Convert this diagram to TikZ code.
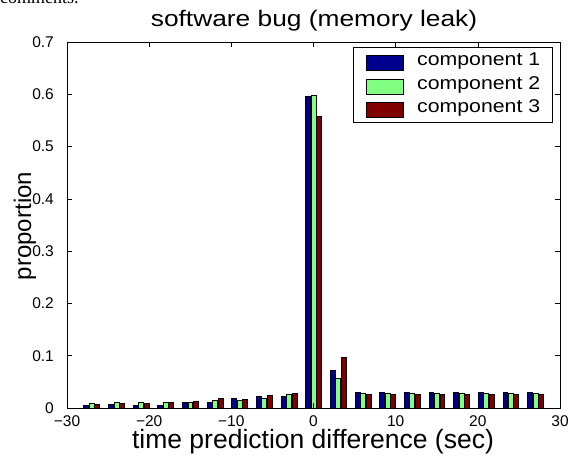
\documentclass[tikz,border=0pt]{standalone}
\usepackage{fontspec}
\usepackage{graphicx}
\setmainfont{Liberation Sans}
\newfontfamily\pageserif{Liberation Serif}
\definecolor{jetblue}{RGB}{0,0,143}
\definecolor{jetgreen}{RGB}{128,255,128}
\definecolor{jetred}{RGB}{128,0,0}
\tikzset{
  barrect/.style={draw=black, line width=0.5bp},
  axisline/.style={draw=black, line width=0.8bp},
  ticklab/.style={inner sep=0pt, font=\fontsize{15.5bp}{18bp}\selectfont},
  legtext/.style={anchor=mid west, inner sep=0pt, font=\fontsize{18.5bp}{22bp}\selectfont},
  swatch/.style={draw=black, line width=0.5bp, minimum width=37bp, minimum height=15bp, inner sep=0pt}
}
\begin{document}
\begin{tikzpicture}[x=1bp,y=1bp]
\useasboundingbox (0,0) rectangle (585,458);
\fill[white] (0,0) rectangle (585,458);

% bottom edge of the line of page text above the figure
\begin{scope}
  \clip (0,0) rectangle (585,458);
  \node[anchor=base west, inner sep=0pt, font=\pageserif\fontsize{18bp}{21bp}\selectfont] (pagetext) at (0,454) {comments.};
\end{scope}

% data area: x from -30 to 30, y from 0 to 0.7
\begin{scope}[shift={(313.5bp,50bp)}, x=8.2167bp, y=522.86bp]
  \foreach \c/\b/\g/\r in {
    -27/.005/.009/.007, -24/.007/.011/.009, -21/.006/.011/.010,
    -18/.006/.011/.0115, -15/.0115/.011/.0134, -12/.0115/.0147/.0185,
    -9/.0185/.0153/.0166, -6/.023/.018/.024, -3/.023/.026/.0287,
    0/.596/.598/.558, 3/.072/.057/.098,
    6/.030/.028/.026, 9/.030/.028/.026, 12/.030/.028/.026,
    15/.030/.028/.026, 18/.030/.028/.026, 21/.030/.028/.026,
    24/.030/.028/.026, 27/.030/.028/.026} {
    \filldraw[barrect, fill=jetblue]  (\c-0.967,0) rectangle (\c-0.367,\b);
    \filldraw[barrect, fill=jetgreen] (\c-0.3,0)   rectangle (\c+0.3,\g);
    \filldraw[barrect, fill=jetred]   (\c+0.367,0) rectangle (\c+0.967,\r);
  }

  % frame
  \draw[axisline] (-30,0) rectangle (30,0.7);

  % ticks on all four sides
  \foreach \v in {-20,-10,0,10,20} {
    \draw[line width=0.6bp] (\v,0) -- ++(0,5bp);
    \draw[line width=0.6bp] (\v,0.7) -- ++(0,-5bp);
  }
  \foreach \h in {0.1,0.2,0.3,0.4,0.5,0.6} {
    \draw[line width=0.6bp] (-30,\h) -- ++(5bp,0);
    \draw[line width=0.6bp] (30,\h) -- ++(-5bp,0);
  }

  % tick labels
  \foreach \v/\t in {-30/−30,-20/−20,-10/−10,0/0,10/10,20/20,30/30} {
    \node[ticklab, anchor=north, yshift=-7bp] (xt\v) at (\v,0) {\t};
  }
  \foreach \h in {0,0.1,0.2,0.3,0.4,0.5,0.6,0.7} {
    \node[ticklab, anchor=east, xshift=-13bp] (yt\h) at (-30,\h) {\h};
  }
\end{scope}

% title and axis labels
\node[anchor=base, inner sep=0pt, font=\fontsize{22.5bp}{26bp}\selectfont] (title) at (314,431)
  {\scalebox{1.17}[1]{software bug (memory leak)}};
\node[anchor=base, inner sep=0pt, font=\fontsize{26.5bp}{30bp}\selectfont] (xlab) at (313,9)
  {time prediction difference (sec)};
\node[anchor=base, rotate=90, inner sep=0pt, font=\fontsize{24bp}{28bp}\selectfont] (ylab) at (31,232)
  {proportion};

% legend
\draw[fill=white, line width=0.8bp] (353,336) rectangle (552,411);
\node[swatch, fill=jetblue]  (sw1) at (384.5,395) {};
\node[swatch, fill=jetgreen] (sw2) at (384.5,371) {};
\node[swatch, fill=jetred]   (sw3) at (384.5,348) {};
\node[legtext] (lg1) at (417,395) {\scalebox{1.15}[1]{component 1}};
\node[legtext] (lg2) at (417,371) {\scalebox{1.15}[1]{component 2}};
\node[legtext] (lg3) at (417,348) {\scalebox{1.15}[1]{component 3}};
\end{tikzpicture}
\end{document}
